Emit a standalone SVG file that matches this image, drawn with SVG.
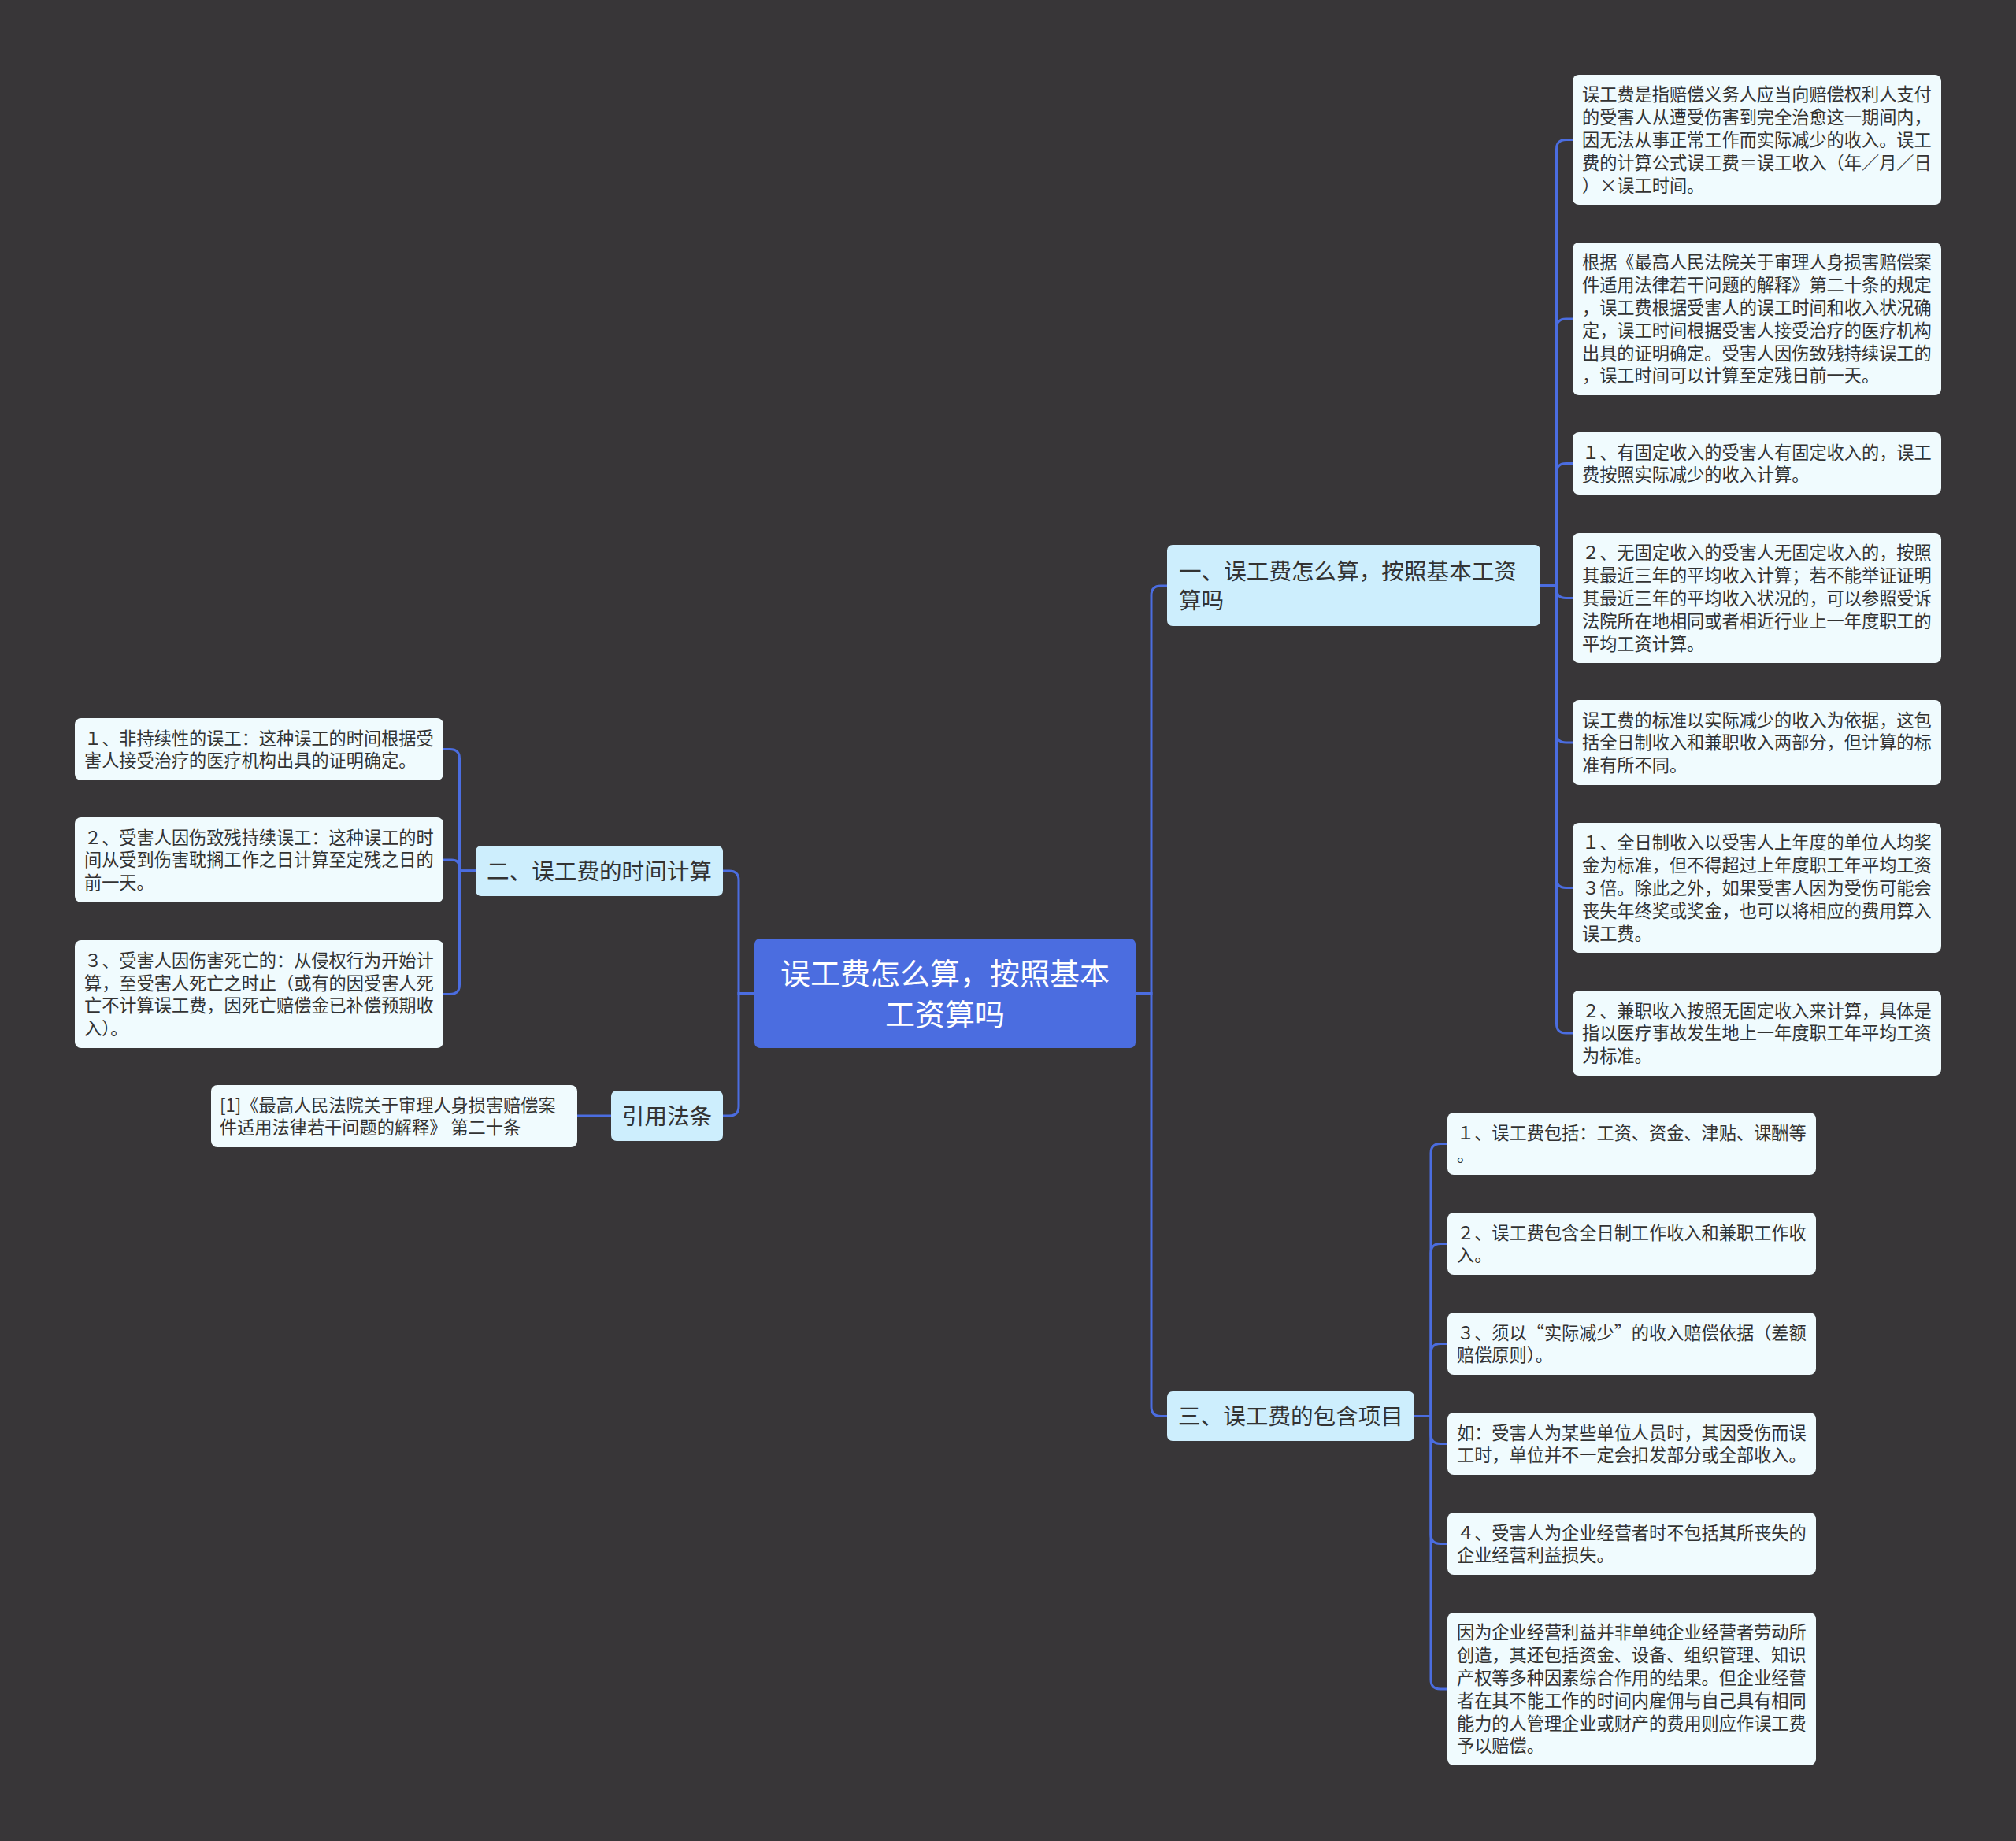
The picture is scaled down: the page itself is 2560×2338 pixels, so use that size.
<svg xmlns="http://www.w3.org/2000/svg" width="2560" height="2338" viewBox="0 0 2560 2338">
<style>
.bg{fill:#383638}
.leaf{fill:#f0fbfe}
.l1{fill:#cdeefd}
.root{fill:#4b6de0}
.c{fill:none;stroke:#4b6de0;stroke-width:3}
text{font-family:"Noto Sans CJK SC","Noto Sans",sans-serif;fill:#333333}
.t{font-size:22.2px}
.t1{font-size:28.6px}
.tr{font-size:38px;fill:#ffffff}
</style>
<rect class="bg" x="0" y="0" width="2560" height="2338"/>
<g id="connectors">
<path class="c" d="M1442 1261.5H1462V756Q1462 744 1474 744H1482"/>
<path class="c" d="M1442 1261.5H1462V1786.5Q1462 1798.5 1474 1798.5H1482"/>
<path class="c" d="M958 1261.5H938V1118Q938 1106 926 1106H918"/>
<path class="c" d="M958 1261.5H938V1405Q938 1417 926 1417H918"/>
<path class="c" d="M776 1417H733"/>
<path class="c" d="M604 1106H583.5V963.5Q583.5 951.5 571.5 951.5H563"/>
<path class="c" d="M604 1106H583.5V1102Q583.5 1092 573.5 1092H563"/>
<path class="c" d="M604 1106H583.5V1250.5Q583.5 1262.5 571.5 1262.5H563"/>
<path class="c" d="M1956 744H1976.5V189.5Q1976.5 177.5 1988.5 177.5H1997"/>
<path class="c" d="M1956 744H1976.5V417Q1976.5 405 1988.5 405H1997"/>
<path class="c" d="M1956 744H1976.5V600.5Q1976.5 588.5 1988.5 588.5H1997"/>
<path class="c" d="M1956 744H1976.5V747.5Q1976.5 759.5 1988.5 759.5H1997"/>
<path class="c" d="M1956 744H1976.5V931Q1976.5 943 1988.5 943H1997"/>
<path class="c" d="M1956 744H1976.5V1115.5Q1976.5 1127.5 1988.5 1127.5H1997"/>
<path class="c" d="M1956 744H1976.5V1300Q1976.5 1312 1988.5 1312H1997"/>
<path class="c" d="M1796 1798.5H1817V1464.5Q1817 1452.5 1829 1452.5H1838"/>
<path class="c" d="M1796 1798.5H1817V1591.5Q1817 1579.5 1829 1579.5H1838"/>
<path class="c" d="M1796 1798.5H1817V1718.5Q1817 1706.5 1829 1706.5H1838"/>
<path class="c" d="M1796 1798.5H1817V1821.5Q1817 1833.5 1829 1833.5H1838"/>
<path class="c" d="M1796 1798.5H1817V1948.5Q1817 1960.5 1829 1960.5H1838"/>
<path class="c" d="M1796 1798.5H1817V2133Q1817 2145 1829 2145H1838"/>
</g>
<g id="root">
<rect class="root" x="958" y="1192" width="484" height="139" rx="7"/>
<text class="tr" x="1200" y="1250.4" text-anchor="middle">误工费怎么算，按照基本</text>
<text class="tr" x="1200" y="1302.4" text-anchor="middle">工资算吗</text>
</g>
<g id="n1">
<rect class="l1" x="1482" y="692" width="474" height="103" rx="7"/>
<text class="t1" x="1497" y="735.9">一、误工费怎么算，按照基本工资</text>
<text class="t1" x="1497" y="772.9">算吗</text>
</g>
<g id="n2">
<rect class="l1" x="604" y="1074" width="314" height="64" rx="7"/>
<text class="t1" x="761" y="1116.9" text-anchor="middle">二、误工费的时间计算</text>
</g>
<g id="n3">
<rect class="l1" x="1482" y="1767" width="314" height="63" rx="7"/>
<text class="t1" x="1639" y="1809.4" text-anchor="middle">三、误工费的包含项目</text>
</g>
<g id="n4">
<rect class="l1" x="776" y="1385" width="142" height="64" rx="7"/>
<text class="t1" x="847" y="1427.9" text-anchor="middle">引用法条</text>
</g>
<g id="r1">
<rect class="leaf" x="1997" y="95" width="468" height="165" rx="8"/>
<text class="t" x="2009" y="128.3">误工费是指赔偿义务人应当向赔偿权利人支付<tspan x="2009" dy="28.8">的受害人从遭受伤害到完全治愈这一期间内，</tspan><tspan x="2009" dy="28.8">因无法从事正常工作而实际减少的收入。误工</tspan><tspan x="2009" dy="28.8">费的计算公式误工费＝误工收入（年／月／日</tspan><tspan x="2009" dy="28.8">）×误工时间。</tspan></text>
</g>
<g id="r2">
<rect class="leaf" x="1997" y="308" width="468" height="194" rx="8"/>
<text class="t" x="2009" y="341.4">根据《最高人民法院关于审理人身损害赔偿案<tspan x="2009" dy="28.8">件适用法律若干问题的解释》第二十条的规定</tspan><tspan x="2009" dy="28.8">，误工费根据受害人的误工时间和收入状况确</tspan><tspan x="2009" dy="28.8">定，误工时间根据受害人接受治疗的医疗机构</tspan><tspan x="2009" dy="28.8">出具的证明确定。受害人因伤致残持续误工的</tspan><tspan x="2009" dy="28.8">，误工时间可以计算至定残日前一天。</tspan></text>
</g>
<g id="r3">
<rect class="leaf" x="1997" y="549" width="468" height="79" rx="8"/>
<text class="t" x="2009" y="582.5">１、有固定收入的受害人有固定收入的，误工<tspan x="2009" dy="28.8">费按照实际减少的收入计算。</tspan></text>
</g>
<g id="r4">
<rect class="leaf" x="1997" y="677" width="468" height="165" rx="8"/>
<text class="t" x="2009" y="710.3">２、无固定收入的受害人无固定收入的，按照<tspan x="2009" dy="28.8">其最近三年的平均收入计算；若不能举证证明</tspan><tspan x="2009" dy="28.8">其最近三年的平均收入状况的，可以参照受诉</tspan><tspan x="2009" dy="28.8">法院所在地相同或者相近行业上一年度职工的</tspan><tspan x="2009" dy="28.8">平均工资计算。</tspan></text>
</g>
<g id="r5">
<rect class="leaf" x="1997" y="889" width="468" height="108" rx="8"/>
<text class="t" x="2009" y="922.6">误工费的标准以实际减少的收入为依据，这包<tspan x="2009" dy="28.8">括全日制收入和兼职收入两部分，但计算的标</tspan><tspan x="2009" dy="28.8">准有所不同。</tspan></text>
</g>
<g id="r6">
<rect class="leaf" x="1997" y="1045" width="468" height="165" rx="8"/>
<text class="t" x="2009" y="1078.3">１、全日制收入以受害人上年度的单位人均奖<tspan x="2009" dy="28.8">金为标准，但不得超过上年度职工年平均工资</tspan><tspan x="2009" dy="28.8">３倍。除此之外，如果受害人因为受伤可能会</tspan><tspan x="2009" dy="28.8">丧失年终奖或奖金，也可以将相应的费用算入</tspan><tspan x="2009" dy="28.8">误工费。</tspan></text>
</g>
<g id="r7">
<rect class="leaf" x="1997" y="1258" width="468" height="108" rx="8"/>
<text class="t" x="2009" y="1291.6">２、兼职收入按照无固定收入来计算，具体是<tspan x="2009" dy="28.8">指以医疗事故发生地上一年度职工年平均工资</tspan><tspan x="2009" dy="28.8">为标准。</tspan></text>
</g>
<g id="b1">
<rect class="leaf" x="1838" y="1413" width="468" height="79" rx="8"/>
<text class="t" x="1850" y="1446.5">１、误工费包括：工资、资金、津贴、课酬等<tspan x="1850" dy="28.8">。</tspan></text>
</g>
<g id="b2">
<rect class="leaf" x="1838" y="1540" width="468" height="79" rx="8"/>
<text class="t" x="1850" y="1573.5">２、误工费包含全日制工作收入和兼职工作收<tspan x="1850" dy="28.8">入。</tspan></text>
</g>
<g id="b3">
<rect class="leaf" x="1838" y="1667" width="468" height="79" rx="8"/>
<text class="t" x="1850" y="1700.5">３、须以“实际减少”的收入赔偿依据（差额<tspan x="1850" dy="28.8">赔偿原则）。</tspan></text>
</g>
<g id="b4">
<rect class="leaf" x="1838" y="1794" width="468" height="79" rx="8"/>
<text class="t" x="1850" y="1827.5">如：受害人为某些单位人员时，其因受伤而误<tspan x="1850" dy="28.8">工时，单位并不一定会扣发部分或全部收入。</tspan></text>
</g>
<g id="b5">
<rect class="leaf" x="1838" y="1921" width="468" height="79" rx="8"/>
<text class="t" x="1850" y="1954.5">４、受害人为企业经营者时不包括其所丧失的<tspan x="1850" dy="28.8">企业经营利益损失。</tspan></text>
</g>
<g id="b6">
<rect class="leaf" x="1838" y="2048" width="468" height="194" rx="8"/>
<text class="t" x="1850" y="2081.4">因为企业经营利益并非单纯企业经营者劳动所<tspan x="1850" dy="28.8">创造，其还包括资金、设备、组织管理、知识</tspan><tspan x="1850" dy="28.8">产权等多种因素综合作用的结果。但企业经营</tspan><tspan x="1850" dy="28.8">者在其不能工作的时间内雇佣与自己具有相同</tspan><tspan x="1850" dy="28.8">能力的人管理企业或财产的费用则应作误工费</tspan><tspan x="1850" dy="28.8">予以赔偿。</tspan></text>
</g>
<g id="l1">
<rect class="leaf" x="95" y="912" width="468" height="79" rx="8"/>
<text class="t" x="107" y="945.5">１、非持续性的误工：这种误工的时间根据受<tspan x="107" dy="28.8">害人接受治疗的医疗机构出具的证明确定。</tspan></text>
</g>
<g id="l2">
<rect class="leaf" x="95" y="1038" width="468" height="108" rx="8"/>
<text class="t" x="107" y="1071.6">２、受害人因伤致残持续误工：这种误工的时<tspan x="107" dy="28.8">间从受到伤害耽搁工作之日计算至定残之日的</tspan><tspan x="107" dy="28.8">前一天。</tspan></text>
</g>
<g id="l3">
<rect class="leaf" x="95" y="1194" width="468" height="137" rx="8"/>
<text class="t" x="107" y="1227.7">３、受害人因伤害死亡的：从侵权行为开始计<tspan x="107" dy="28.8">算，至受害人死亡之时止（或有的因受害人死</tspan><tspan x="107" dy="28.8">亡不计算误工费，因死亡赔偿金已补偿预期收</tspan><tspan x="107" dy="28.8">入）。</tspan></text>
</g>
<g id="cite">
<rect class="leaf" x="268" y="1378" width="465" height="79" rx="8"/>
<text class="t" x="279" y="1411.5">[1]《最高人民法院关于审理人身损害赔偿案<tspan x="279" dy="28.8">件适用法律若干问题的解释》 第二十条</tspan></text>
</g>
</svg>
